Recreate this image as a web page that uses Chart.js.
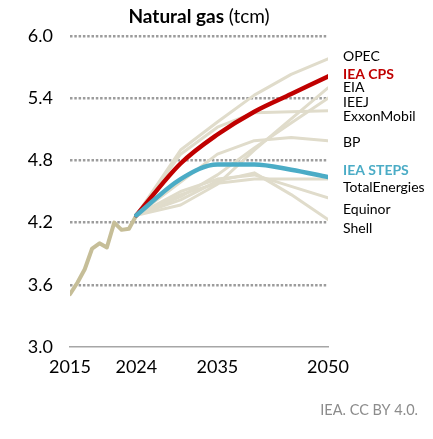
<!DOCTYPE html>
<html>
<head>
<meta charset="utf-8">
<script src="https://cdn.jsdelivr.net/npm/chart.js@4/dist/chart.umd.min.js"></script>
<style>
html,body{margin:0;padding:0;background:#fff;}
#wrap{width:433px;height:439px;}
</style>
</head>
<body>
<div id="wrap"><canvas id="c" width="433" height="439"></canvas></div>
<script>
// ---- data ----
const histYears = [2015, 2016, 2017, 2018, 2019, 2020, 2021, 2022, 2023, 2024];
const histValues = [3.51, 3.62, 3.75, 3.95, 4.00, 3.96, 4.20, 4.13, 4.14, 4.27];

const projYears = [2024, 2030, 2035, 2040, 2045, 2050];
const opec    = [4.27, 4.90, 5.17, 5.43, 5.63, 5.78];
const iaeCps  = [4.27, 4.77, 5.05, 5.27, 5.44, 5.61];
const eia     = [4.27, 4.37, 4.57, 4.90, 5.20, 5.50];
const ieej    = [4.27, 4.45, 4.66, 4.92, 5.16, 5.40];
const exxon   = [4.27, 4.86, 5.12, 5.26, 5.27, 5.28];
const bp      = [4.27, 4.59, 4.86, 4.99, 5.02, 4.99];
const ieaSteps= [4.27, 4.62, 4.76, 4.76, 4.71, 4.64];
const total   = [4.27, 4.47, 4.58, 4.62, 4.62, 4.62];
const equinor = [4.27, 4.50, 4.62, 4.66, 4.55, 4.44];
const shell   = [4.27, 4.42, 4.60, 4.68, 4.47, 4.23];

const xTicks = [2015, 2024, 2035, 2050];
const yTicks = [3.0, 3.6, 4.2, 4.8, 5.4, 6.0];

const seriesNames  = ["OPEC", "IEA CPS", "EIA", "IEEJ", "ExxonMobil", "BP", "IEA STEPS", "TotalEnergies", "Equinor", "Shell"];
const labelValues  = [5.80, 5.63, 5.50, 5.36, 5.22, 4.97, 4.70, 4.54, 4.33, 4.14];

const title = "Natural gas";
const unit = "(tcm)";
const source = "IEA. CC BY 4.0.";

// ---- build ----
const pts = (xs, ys) => xs.map((x, i) => ({x: x, y: ys[i]}));
const BEIGE = "#e0dccb";
const RED = "#c00000";
const BLUE = "#4bacc6";

function beige(name, vals) {
  return {label: name, data: pts(projYears, vals), borderColor: BEIGE, borderWidth: 3, order: 5, tension: 0};
}

const datasets = [
  {label: "IEA STEPS", data: pts(projYears, ieaSteps), borderColor: BLUE, borderWidth: 4.5, order: 0, cubicInterpolationMode: "monotone"},
  {label: "IEA CPS", data: pts(projYears, iaeCps), borderColor: RED, borderWidth: 4.5, order: 1, cubicInterpolationMode: "monotone"},
  {label: "History", data: pts(histYears, histValues), borderColor: "#c6be98", borderWidth: 4, order: 2, tension: 0},
  beige("OPEC", opec),
  beige("EIA", eia),
  beige("IEEJ", ieej),
  beige("ExxonMobil", exxon),
  beige("BP", bp),
  beige("TotalEnergies", total),
  beige("Equinor", equinor),
  beige("Shell", shell)
];

const FONT = "Lato, 'Open Sans', sans-serif";

const textPlugin = {
  id: "texts",
  afterDraw(chart) {
    const ctx = chart.ctx;
    const ys = chart.scales.y;
    const area = chart.chartArea;
    ctx.save();
    // title
    ctx.textBaseline = "middle";
    ctx.fillStyle = "#000";
    ctx.font = "bold 19px " + FONT;
    const w1 = ctx.measureText(title + " ").width;
    ctx.font = "19px " + FONT;
    const w2 = ctx.measureText(unit).width;
    const cx = 199;
    let x0 = cx - (w1 + w2) / 2;
    ctx.textAlign = "left";
    ctx.font = "bold 19px " + FONT;
    ctx.fillText(title + " ", x0, 17);
    ctx.font = "19px " + FONT;
    ctx.fillText(unit, x0 + w1, 17);
    // right labels
    seriesNames.forEach((n, i) => {
      let color = "#000", weight = "";
      if (n === "IEA CPS") { color = RED; weight = "bold "; }
      if (n === "IEA STEPS") { color = BLUE; weight = "bold "; }
      ctx.fillStyle = color;
      ctx.font = weight + "14px " + FONT;
      ctx.fillText(n, area.right + 15, ys.getPixelForValue(labelValues[i]));
    });
    // source
    ctx.fillStyle = "#8c8c8c";
    ctx.font = "14.5px " + FONT;
    ctx.textAlign = "right";
    ctx.fillText(source, 418, 410);
    ctx.restore();
  }
};

new Chart(document.getElementById("c"), {
  type: "line",
  data: {datasets: datasets},
  options: {
    responsive: false,
    animation: false,
    devicePixelRatio: 1,
    layout: {padding: {top: 36, right: 105, left: 0, bottom: 0}},
    elements: {point: {radius: 0}, line: {borderCapStyle: "round", borderJoinStyle: "round"}},
    plugins: {legend: {display: false}, tooltip: {enabled: false}, title: {display: false}},
    scales: {
      x: {
        type: "linear",
        min: 2015, max: 2050,
        afterBuildTicks: (s) => { s.ticks = xTicks.map(v => ({value: v})); },
        afterFit: (s) => { s.height = 92; },
        grid: {display: false, drawTicks: false},
        border: {display: true, color: "#a6a6a6", width: 1.5},
        ticks: {padding: 9, color: "#000", font: {family: FONT, size: 18}, maxRotation: 0, autoSkip: false, callback: (v) => String(v)}
      },
      y: {
        min: 3.0, max: 6.0,
        afterBuildTicks: (s) => { s.ticks = yTicks.map(v => ({value: v})); },
        afterFit: (s) => { s.width = 70; },
        grid: {
          drawTicks: false,
          lineWidth: 2.5,
          color: (ctx) => (ctx.tick && Math.abs(ctx.tick.value - 3.0) < 1e-6) ? "rgba(0,0,0,0)" : "#9c9c9c"
        },
        border: {display: false, dash: [2.5, 1.8]},
        ticks: {padding: 17, color: "#000", font: {family: FONT, size: 18}, callback: (v) => Number(v).toFixed(1)}
      }
    }
  },
  plugins: [textPlugin]
});
</script>
</body>
</html>
